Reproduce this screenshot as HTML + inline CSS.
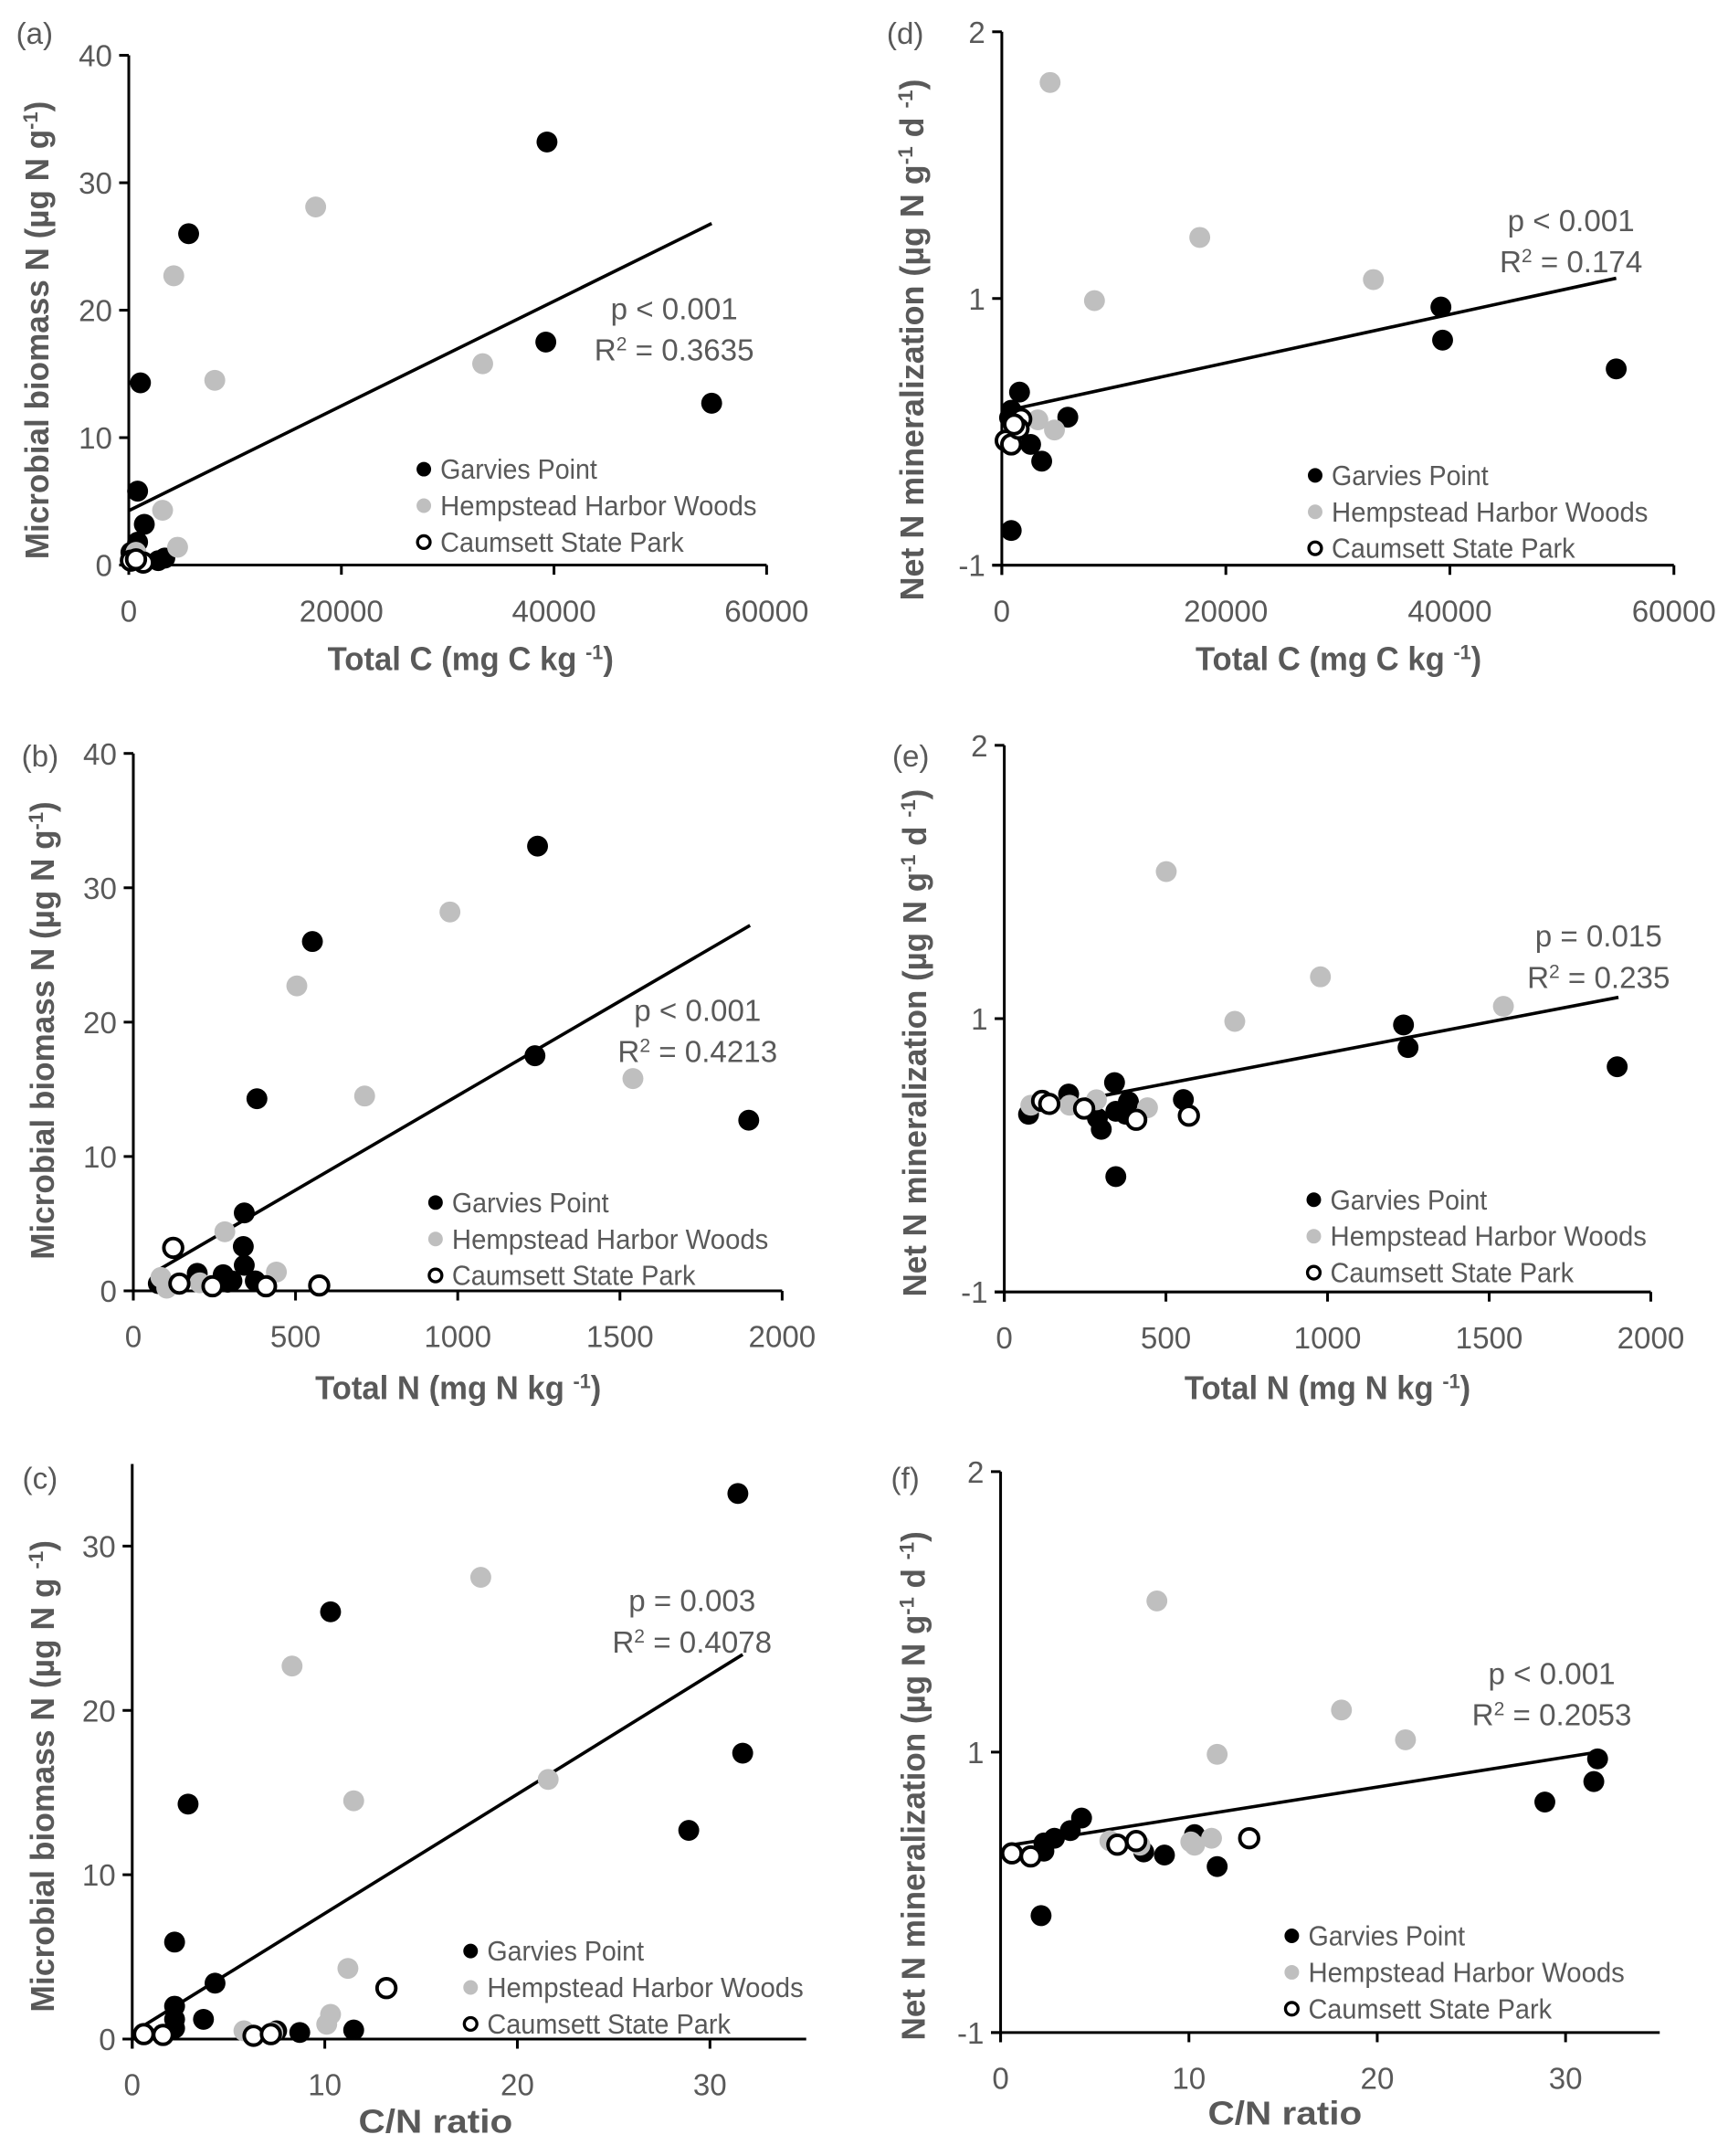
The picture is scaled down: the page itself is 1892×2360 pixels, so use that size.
<!DOCTYPE html>
<html><head><meta charset="utf-8"><style>
html,body{margin:0;padding:0;background:#fff;}
svg{display:block;}
text{font-family:"Liberation Sans",sans-serif;}
</style></head><body>
<svg id="fig" width="1892" height="2360" viewBox="0 0 1256 1567" xmlns="http://www.w3.org/2000/svg"></svg>
<script>
// ---- data arrays ----
const xTicksC = [0,20000,40000,60000];
const xTicksN = [0,500,1000,1500,2000];
const xTicksR = [0,10,20,30];
const yTicksMB = [0,10,20,30,40];
const yTicksMBc = [0,10,20,30];
const yTicksNM = [0,1,2];
const yTickLabelsNM = ["-1","1","2"];

const aGX=[39340,5630,1100,39230,54830,830,1460,830,420,2770,3390,200];
const aGY=[33.2,26.0,14.3,17.5,12.7,5.8,3.2,1.8,0.55,0.35,0.55,1.0];
const aHX=[17580,4230,8090,33290,3180,4590,680];
const aHY=[28.1,22.7,14.5,15.8,4.3,1.4,1.0];
const aCX=[200,1360,680];
const aCY=[0.35,0.2,0.45];
const aTX=[0,54830];
const aTY=[4.27,26.8];

const dGX=[39200,39350,54850,1580,840,5890,2570,3560,840,690];
const dGY=[0.968,0.844,0.736,0.649,0.581,0.555,0.453,0.39,0.13,0.553];
const dHX=[4310,17670,33170,8270,3220,4700,500];
const dHY=[1.81,1.229,1.071,0.992,0.545,0.507,0.47];
const dCX=[350,840,1730,1490,1090];
const dCY=[0.467,0.453,0.548,0.512,0.528];
const dTX=[1090,54850];
const dTY=[0.586,1.076];

const bGX=[1246,552,381,1238,1897,342,339,342,197,277,291,304,376,77];
const bGY=[33.1,26.0,14.3,17.5,12.7,5.8,3.3,1.9,1.3,1.2,0.64,0.74,0.74,0.54];
const bHX=[976,504,713,1540,282,441,85,103,205];
const bHY=[28.2,22.7,14.5,15.8,4.4,1.4,1.0,0.2,0.6];
const bCX=[123,142,244,409,573];
const bCY=[3.2,0.54,0.34,0.34,0.4];
const bTX=[77,1901];
const bTY=[1.55,27.2];

const eGX=[1235,1249,1896,341,199,75,384,345,376,288,300,554,345];
const eGY=[0.977,0.894,0.824,0.766,0.724,0.65,0.696,0.661,0.65,0.636,0.595,0.704,0.422];
const eHX=[501,978,1544,713,443,202,82,285];
const eHY=[1.538,1.153,1.045,0.99,0.674,0.683,0.683,0.703];
const eCX=[117,139,247,408,571];
const eCY=[0.699,0.688,0.671,0.63,0.645];
const eTX=[75,1900];
const eTY=[0.666,1.078];

const cGX=[31.45,10.3,2.9,31.7,28.9,2.2,4.3,2.2,2.2,3.7,2.2,7.5,8.7,11.5];
const cGY=[33.2,26.0,14.3,17.4,12.7,5.9,3.4,2.0,1.2,1.2,0.66,0.5,0.4,0.55];
const cHX=[18.1,8.3,11.5,21.6,11.2,10.3,10.1,5.8,7.3];
const cHY=[28.1,22.7,14.5,15.8,4.3,1.5,0.9,0.5,0.4];
const cCX=[0.6,1.6,6.3,7.2,13.2];
const cCY=[0.3,0.25,0.2,0.3,3.1];
const cTX=[0.3,31.7];
const cTY=[0.6,23.4];

const fGX=[31.7,31.5,28.9,4.3,3.7,2.86,2.3,2.3,10.3,7.6,8.7,11.5,2.15];
const fGY=[0.976,0.895,0.822,0.765,0.72,0.693,0.676,0.647,0.706,0.644,0.633,0.592,0.417];
const fHX=[8.3,18.1,21.5,11.5,11.2,10.1,10.3,5.8,7.4];
const fHY=[1.539,1.15,1.044,0.992,0.693,0.68,0.668,0.684,0.668];
const fCX=[0.6,1.6,6.2,7.2,13.2];
const fCY=[0.639,0.628,0.67,0.683,0.693];
const fTX=[0.5,31.7];
const fTY=[0.668,1.0];

const seriesNames=["Garvies Point","Hempstead Harbor Woods","Caumsett State Park"];

// ---- drawing ----
const NS="http://www.w3.org/2000/svg";
const svg=document.getElementById("fig");
const GREY="#595959";
function mk(tag,attrs,parent){const e=document.createElementNS(NS,tag);for(const k in attrs)e.setAttribute(k,attrs[k]);(parent||svg).appendChild(e);return e;}

const panels=[
 {id:"a",label:"(a)",lx:25,ly:32,x0:93.5,x1:557.2,xmin:0,xmax:60000,y0:410.7,y1:40.2,ymin:0,ymax:40,xt:xTicksC,yt:yTicksMB,ytl:null,
  G:[aGX,aGY],H:[aHX,aHY],C:[aCX,aCY],T:[aTX,aTY],p:"p < 0.001",r:" = 0.3635",sx:490,sy:224,
  legx:308,legy:341,xtitle:["Total C (mg C kg ","-1",")"],xtx:342,xty:487,xtw:208,ytitle:["Microbial biomass N (µg N g","-1",")"],ytx:26,yty:240,ytw:333},
 {id:"d",label:"(d)",lx:658,ly:32,x0:728.2,x1:1216.8,xmin:0,xmax:60000,y0:410.8,y1:23.1,ymin:0,ymax:2,xt:xTicksC,yt:yTicksNM,ytl:yTickLabelsNM,
  G:[dGX,dGY],H:[dHX,dHY],C:[dCX,dCY],T:[dTX,dTY],p:"p < 0.001",r:" = 0.174",sx:1142,sy:160,
  legx:956,legy:345.5,xtitle:["Total C (mg C kg ","-1",")"],xtx:973,xty:487,xtw:208,ytitle:["Net N mineralization (µg N g","-1"," d ","-1",")"],ytx:662,yty:247,ytw:379},
 {id:"b",label:"(b)",lx:29,ly:557,x0:96.8,x1:568.5,xmin:0,xmax:2000,y0:938.2,y1:547.6,ymin:0,ymax:40,xt:xTicksN,yt:yTicksMB,ytl:null,
  G:[bGX,bGY],H:[bHX,bHY],C:[bCX,bCY],T:[bTX,bTY],p:"p < 0.001",r:" = 0.4213",sx:507,sy:734,
  legx:316.5,legy:874,xtitle:["Total N (mg N kg ","-1",")"],xtx:333,xty:1017,xtw:208,ytitle:["Microbial biomass N (µg N g","-1",")"],ytx:30,yty:749,ytw:333},
 {id:"e",label:"(e)",lx:662,ly:557,x0:730,x1:1200,xmin:0,xmax:2000,y0:939,y1:541.7,ymin:0,ymax:2,xt:xTicksN,yt:yTicksNM,ytl:yTickLabelsNM,
  G:[eGX,eGY],H:[eHX,eHY],C:[eCX,eCY],T:[eTX,eTY],p:"p = 0.015",r:" = 0.235",sx:1162,sy:680,
  legx:955,legy:872,xtitle:["Total N (mg N kg ","-1",")"],xtx:965,xty:1017,xtw:208,ytitle:["Net N mineralization (µg N g","-1"," d ","-1",")"],ytx:664,yty:758,ytw:369},
 {id:"c",label:"(c)",lx:29,ly:1082,x0:96,x1:586,xmin:0,xmax:35,y0:1482,y1:1064,ymin:0,ymax:35,xt:xTicksR,yt:yTicksMBc,ytl:null,
  G:[cGX,cGY],H:[cHX,cHY],C:[cCX,cCY],T:[cTX,cTY],p:"p = 0.003",r:" = 0.4078",sx:503,sy:1163,
  legx:342,legy:1418,xtitle:["C/N ratio"],xtx:316.5,xty:1550,xtw:112,ytitle:["Microbial biomass N (µg N g ","-1",")"],ytx:30,yty:1291,ytw:343},
 {id:"f",label:"(f)",lx:658,ly:1082,x0:727.3,x1:1206.5,xmin:0,xmax:35,y0:1477.3,y1:1069.6,ymin:0,ymax:2,xt:xTicksR,yt:yTicksNM,ytl:yTickLabelsNM,
  G:[fGX,fGY],H:[fHX,fHY],C:[fCX,fCY],T:[fTX,fTY],p:"p < 0.001",r:" = 0.2053",sx:1128,sy:1216,
  legx:939,legy:1407,xtitle:["C/N ratio"],xtx:934,xty:1544,xtw:112,ytitle:["Net N mineralization (µg N g","-1"," d ","-1",")"],ytx:663,yty:1298,ytw:370}
];

function richText(parts,attrs,parent){
  const t=mk("text",attrs,parent);
  parts.forEach((s,i)=>{
    const sup=(s==="-1");
    const ts=mk("tspan",sup?{"baseline-shift":"super","font-size":"15"}:{},t);
    ts.textContent=s;
  });
  return t;
}

panels.forEach(P=>{
  const g=mk("g",{});
  
  
  const X=v=>P.x0+(v-P.xmin)/(P.xmax-P.xmin)*(P.x1-P.x0);
  const Y=v=>P.y0-(v-P.ymin)/(P.ymax-P.ymin)*(P.y0-P.y1);

  const lab=mk("text",{x:P.lx,y:P.ly,"text-anchor":"middle","font-size":"22",fill:GREY},g);
  lab.textContent=P.label;
  
  

  const xa=mk("line",{x1:P.x0-7,y1:P.y0,x2:P.x1,y2:P.y0,stroke:"#000","stroke-width":2},g);
  
  
  const ya=mk("line",{x1:P.x0,y1:P.y1,x2:P.x0,y2:P.y0+7,stroke:"#000","stroke-width":2},g);
  
  

  P.xt.forEach(v=>{
    const tk=mk("line",{x1:X(v),y1:P.y0,x2:X(v),y2:P.y0+7,stroke:"#000","stroke-width":2},g);
    
    
    const tl=mk("text",{x:X(v),y:P.y0+41,"text-anchor":"middle","font-size":"22",fill:GREY},g);
    tl.textContent=String(v);
    
    
  });
  P.yt.forEach((v,i)=>{
    const tk=mk("line",{x1:P.x0-7,y1:Y(v),x2:P.x0,y2:Y(v),stroke:"#000","stroke-width":2},g);
    
    
    const tl=mk("text",{x:P.x0-12,y:Y(v)+8,"text-anchor":"end","font-size":"22",fill:GREY},g);
    tl.textContent=P.ytl?P.ytl[i]:String(v);
    
    
  });

  const tr=mk("line",{x1:X(P.T[0][0]),y1:Y(P.T[1][0]),x2:X(P.T[0][1]),y2:Y(P.T[1][1]),stroke:"#000","stroke-width":2.4},g);
  
  

  const styles=[{fill:"#000",stroke:"none"},{fill:"#bfbfbf",stroke:"none"},{fill:"#fff",stroke:"#000","stroke-width":2.6}];
  const keys=["garvies-point","hempstead-harbor-woods","caumsett-state-park"];
  [P.G,P.H,P.C].forEach((S,si)=>{
    S[0].forEach((xv,i)=>{
      const r=si===2?6.8:7.6;
      const c=mk("circle",Object.assign({cx:X(xv),cy:Y(S[1][i]),r:r},styles[si]),g);
      
      
    });
  });

  const s1=mk("text",{x:P.sx,y:P.sy+8,"text-anchor":"middle","font-size":"22",fill:GREY},g);
  s1.textContent=P.p;
  
  
  const s2=mk("text",{x:P.sx,y:P.sy+38,"text-anchor":"middle","font-size":"22",fill:GREY},g);
  const t1=mk("tspan",{},s2);t1.textContent="R";
  const t2=mk("tspan",{"baseline-shift":"super","font-size":"14"},s2);t2.textContent="2";
  const t3=mk("tspan",{},s2);t3.textContent=P.r;
  
  

  const lg=mk("g",{},g);
  
  
  const lw=[114,230,177];
  seriesNames.forEach((nm,i)=>{
    const yy=P.legy+i*26.5;
    const st=i===2?{fill:"#fff",stroke:"#000","stroke-width":2.2}:styles[i];
    const m=mk("circle",Object.assign({cx:P.legx,cy:yy,r:i===2?4.6:5.3},st),lg);
    
    
    const t=mk("text",{x:P.legx+12,y:yy+7,"font-size":"20",fill:GREY,textLength:lw[i],lengthAdjust:"spacingAndGlyphs"},lg);
    t.textContent=nm;
    
    
  });

  const xt=richText(P.xtitle,{x:P.xtx,y:P.xty,"text-anchor":"middle","font-size":"24","font-weight":"bold",fill:GREY,textLength:P.xtw,lengthAdjust:"spacingAndGlyphs"},g);
  
  
  const yt=richText(P.ytitle,{x:0,y:0,"text-anchor":"middle","font-size":"24","font-weight":"bold",fill:GREY,textLength:P.ytw,lengthAdjust:"spacingAndGlyphs",transform:"translate("+(P.ytx+9)+","+P.yty+") rotate(-90)"},g);
  
  
});
</script>
</body></html>
